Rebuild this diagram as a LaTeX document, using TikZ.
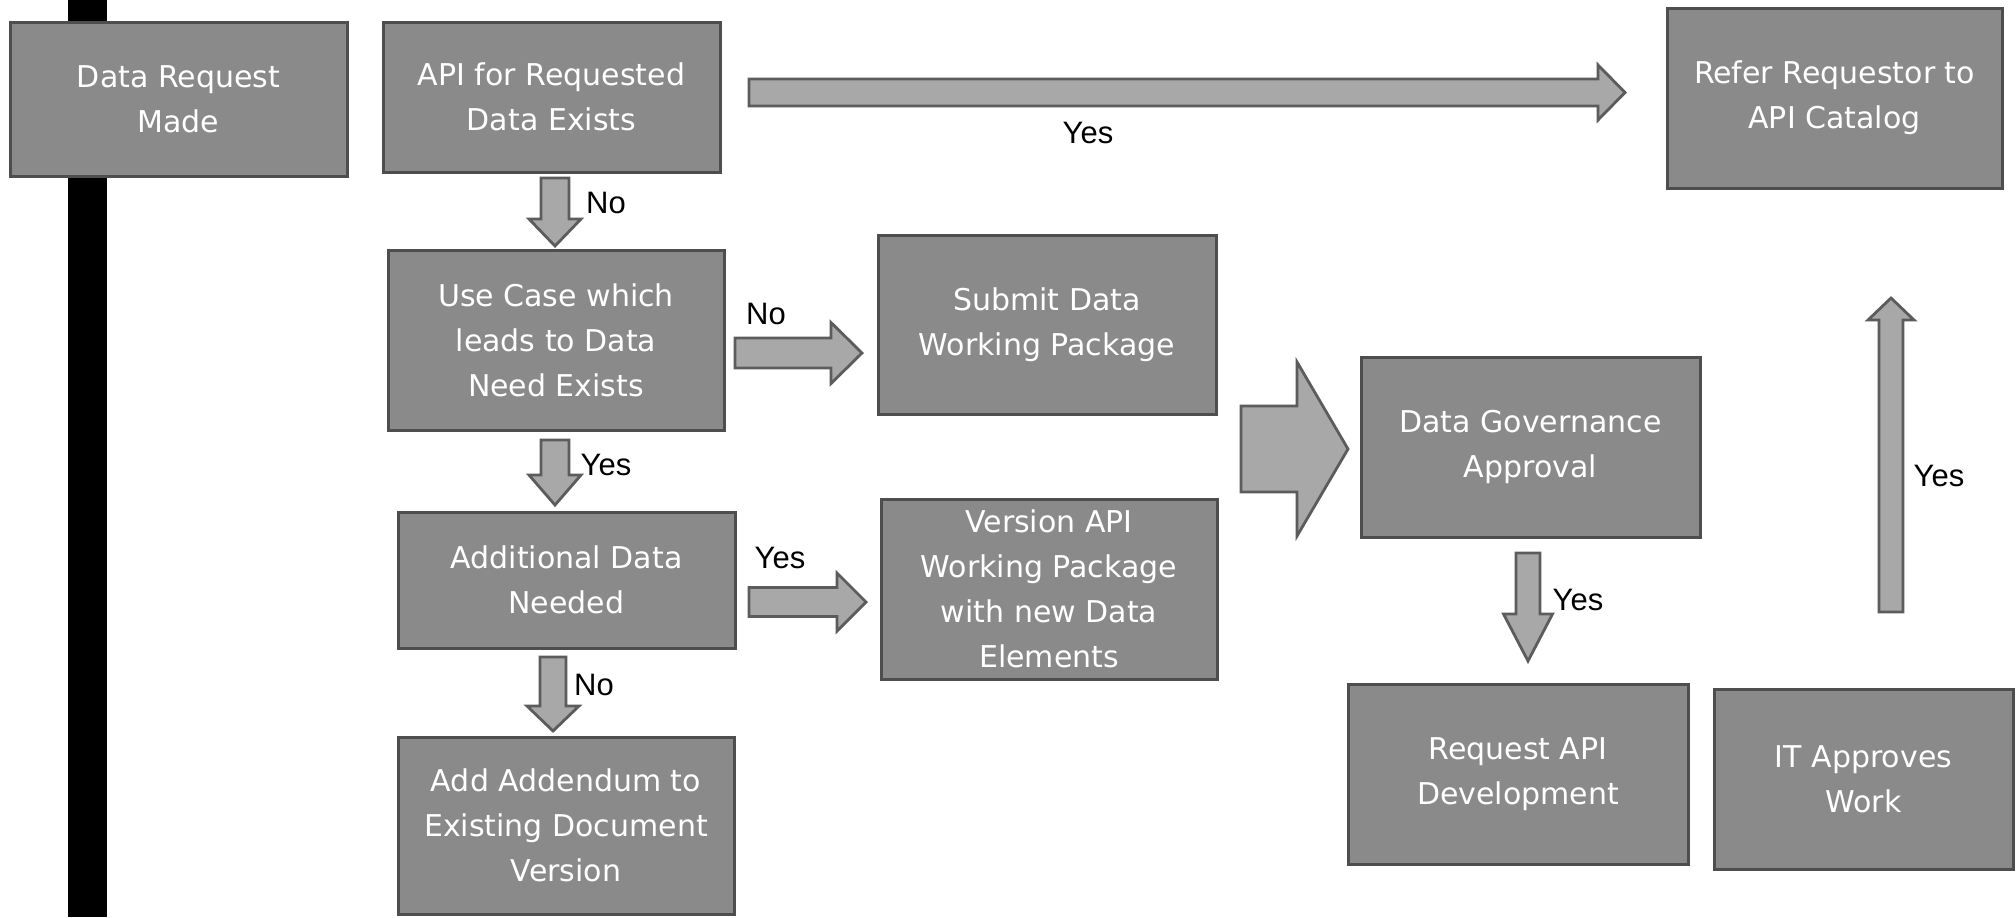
\documentclass[tikz,border=0pt]{standalone}
\usepackage{fontspec}
\setmainfont{DejaVu Sans}
\newfontfamily\lblfont{Liberation Sans}
\usetikzlibrary{calc}
\definecolor{boxfill}{RGB}{138,138,138}
\definecolor{boxdraw}{RGB}{78,78,78}
\definecolor{arrfill}{RGB}{168,168,168}
\definecolor{arrdraw}{RGB}{92,92,92}
\tikzset{
  procbox/.style={draw=boxdraw, fill=boxfill, line width=1.5pt, text=white,
    align=center, inner sep=0pt, outer sep=0pt,
    font=\fontsize{15}{22.5}\selectfont},
  blk/.style={draw=arrdraw, fill=arrfill, line width=1.4pt, line join=miter},
  lbl/.style={font=\lblfont\fontsize{15.5}{18}\selectfont, text=black, inner sep=0pt}
}
\newcommand\rarr[5]{\draw[blk] ($(#1)+(0,-#3)$) -- ($(#2)+(-#5,-#3)$) -- ($(#2)+(-#5,-#4)$) -- (#2) -- ($(#2)+(-#5,#4)$) -- ($(#2)+(-#5,#3)$) -- ($(#1)+(0,#3)$) -- cycle;}
\newcommand\darr[5]{\draw[blk] ($(#1)+(-#3,0)$) -- ($(#2)+(-#3,-#5)$) -- ($(#2)+(-#4,-#5)$) -- (#2) -- ($(#2)+(#4,-#5)$) -- ($(#2)+(#3,-#5)$) -- ($(#1)+(#3,0)$) -- cycle;}
\newcommand\uarr[5]{\draw[blk] ($(#1)+(-#3,0)$) -- ($(#2)+(-#3,#5)$) -- ($(#2)+(-#4,#5)$) -- (#2) -- ($(#2)+(#4,#5)$) -- ($(#2)+(#3,#5)$) -- ($(#1)+(#3,0)$) -- cycle;}
\begin{document}
\begin{tikzpicture}[x=0.5pt,y=-0.5pt]
\useasboundingbox (0,0) rectangle (2016,917);
\fill[white] (0,0) rectangle (2016,917);
% black vertical bar
\fill[black] (68,0) rectangle (107,917);

% boxes
\node[procbox, minimum width=168.5pt, minimum height=77pt] (req) at (178.5,99) {Data Request\\Made};
\node[procbox, minimum width=168.5pt, minimum height=75pt] (api) at (551.5,97) {API for Requested\\Data Exists};
\node[procbox, minimum width=167.5pt, minimum height=90pt] (refer) at (1834.5,98) {Refer Requestor to\\API Catalog};
\node[procbox, minimum width=168pt, minimum height=90pt] (usecase) at (556,340) {Use Case which\\leads to Data\\Need Exists};
\node[procbox, minimum width=169pt, minimum height=89.5pt] (submit) at (1047,324.5) {Submit Data\\Working Package};
\node[procbox, minimum width=168.5pt, minimum height=68pt] (addl) at (566.5,580) {Additional Data\\Needed};
\node[procbox, minimum width=168pt, minimum height=88.5pt] (addendum) at (566,825.5) {Add Addendum to\\Existing Document\\Version};
\node[procbox, minimum width=168pt, minimum height=90pt] (version) at (1049,589) {Version API\\Working Package\\with new Data\\Elements};
\node[procbox, minimum width=169.5pt, minimum height=90pt] (dg) at (1530.5,447) {Data Governance\\Approval};
\node[procbox, minimum width=170pt, minimum height=90pt] (reqapi) at (1518,774) {Request API\\Development};
\node[procbox, minimum width=149.5pt, minimum height=90pt] (it) at (1863.5,779) {IT Approves\\Work};

% arrow end points, taken from the boxes
\coordinate (a1s) at ($(api.east)+(29,-4.5)$);
\coordinate (a1t) at ($(refer.west)+(-42,-5.5)$);
\coordinate (a2s) at ($(api.south)+(3.5,6)$);
\coordinate (a2t) at ($(usecase.north)+(-1,-4)$);
\coordinate (a3s) at ($(usecase.east)+(11,13)$);
\coordinate (a3t) at ($(submit.west)+(-16,28.5)$);
\coordinate (a4s) at ($(usecase.south)+(-1,10)$);
\coordinate (a4t) at ($(addl.north)+(-11.5,-7)$);
\coordinate (a5s) at ($(addl.east)+(14,22)$);
\coordinate (a5t) at ($(version.west)+(-15,13)$);
\coordinate (a6s) at ($(addl.south)+(-13.5,9)$);
\coordinate (a6t) at ($(addendum.north)+(-13,-6)$);
\coordinate (a7s) at ($(dg.west)+(-120,2)$);
\coordinate (a7t) at ($(dg.west)+(-13,2)$);
\coordinate (a8s) at ($(dg.south)+(-2.5,16)$);
\coordinate (a8t) at ($(reqapi.north)+(10,-23)$);
\coordinate (a9s) at ($(it.north)+(27.5,-77)$);
\coordinate (a9t) at ($(refer.south)+(56.5,110)$);

% block arrows
\rarr{a1s}{a1t}{13.5}{27.5}{27}
\darr{a2s}{a2t}{14}{26}{27}
\rarr{a3s}{a3t}{15}{30.5}{31}
\darr{a4s}{a4t}{14}{26}{30}
\rarr{a5s}{a5t}{14.5}{29}{29}
\darr{a6s}{a6t}{13}{26}{25}
\rarr{a7s}{a7t}{43}{87}{51}
\darr{a8s}{a8t}{12}{24.5}{47}
\uarr{a9s}{a9t}{12}{23}{22}

% labels
\node[lbl] (l1) at (1088,133) {Yes};
\node[lbl] (l2) at (606,203) {No};
\node[lbl] (l3) at (766,314) {No};
\node[lbl] (l4) at (606,465) {Yes};
\node[lbl] (l5) at (780,558) {Yes};
\node[lbl] (l6) at (594,685) {No};
\node[lbl] (l7) at (1578,600) {Yes};
\node[lbl] (l8) at (1939,476) {Yes};
\end{tikzpicture}
\end{document}
